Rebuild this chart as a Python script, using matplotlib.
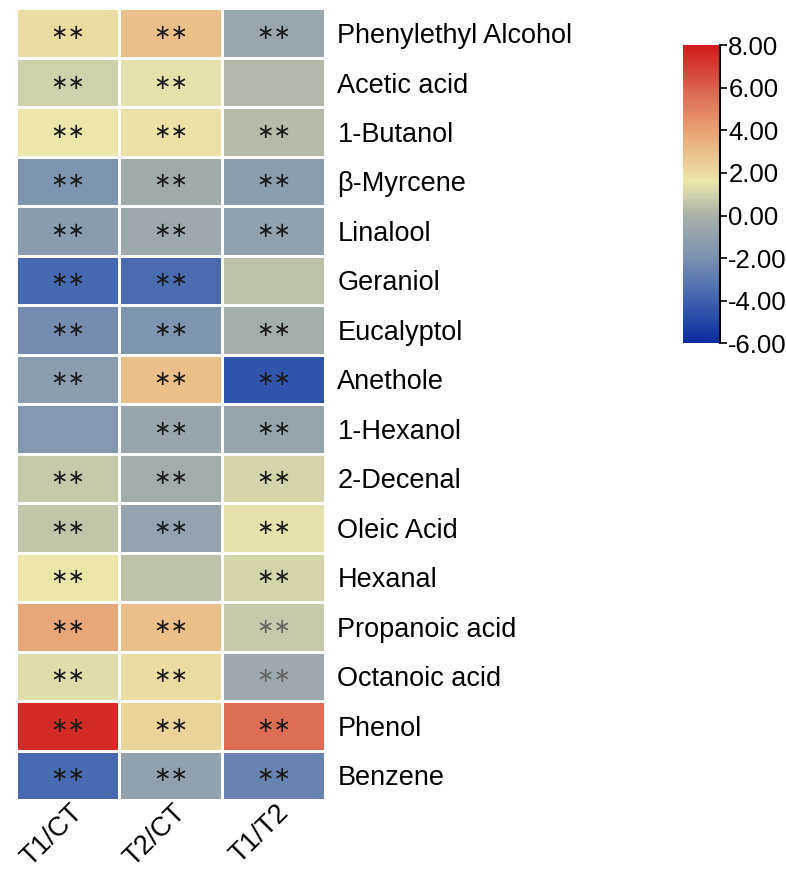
import numpy as np
import matplotlib.pyplot as plt
import matplotlib.transforms as mtransforms
from matplotlib.colors import LinearSegmentedColormap, Normalize

compounds = ['Phenylethyl Alcohol', 'Acetic acid', '1-Butanol', 'β-Myrcene', 'Linalool',
             'Geraniol', 'Eucalyptol', 'Anethole', '1-Hexanol', '2-Decenal', 'Oleic Acid',
             'Hexanal', 'Propanoic acid', 'Octanoic acid', 'Phenol', 'Benzene']
groups = ['T1/CT', 'T2/CT', 'T1/T2']

# log2 fold change per compound (T1/CT, T2/CT, T1/T2)
t1_ct = [2.0, 0.9, 1.6, -1.8, -1.3, -3.8, -2.2, -1.2, -1.6, 0.7, 0.6, 1.6, 3.8, 1.3, 7.5, -3.7]
t2_ct = [3.0, 1.4, 1.8, -0.4, -0.5, -3.6, -1.8, 3.0, -0.7, -0.3, -0.9, 0.5, 3.0, 2.0, 2.3, -1.0]
t1_t2 = [-0.6, 0.2, 0.3, -1.2, -1.0, 0.5, -0.2, -4.5, -0.8, 1.0, 1.4, 1.0, 0.7, -0.5, 5.6, -2.6]

# significance marks
sig_t1_ct = ['**'] * 8 + [''] + ['**'] * 7
sig_t2_ct = ['**'] * 11 + [''] + ['**'] * 4
sig_t1_t2 = ['**', ''] + ['**'] * 3 + [''] + ['**'] * 10
faint_marks = [('Propanoic acid', 'T1/T2'), ('Octanoic acid', 'T1/T2')]

vals = np.array([t1_ct, t2_ct, t1_t2]).T
sig = np.array([sig_t1_ct, sig_t2_ct, sig_t1_t2]).T

cmap = LinearSegmentedColormap.from_list('fc', [
    (0.0, '#0a2a9e'), (2/14, '#3f63b0'), (4/14, '#7b91b0'), (6/14, '#a8b1aa'),
    (7.6/14, '#ece8aa'), (10/14, '#e8a274'), (12/14, '#dc6150'), (1.0, '#d01a1a')])
norm = Normalize(vmin=-6, vmax=8)

plt.rcParams['font.family'] = ['Liberation Sans', 'DejaVu Sans']
plt.rcParams['axes.unicode_minus'] = False
fig = plt.figure(figsize=(7.86, 8.71), dpi=100)
ax = fig.add_axes([0.0204, 0.0815, 0.393, 0.909])

mesh = ax.pcolormesh(vals, cmap=cmap, norm=norm, edgecolors='white', linewidth=2)
ax.set_xlim(0, 3)
ax.set_ylim(len(compounds), 0)

for i, name in enumerate(compounds):
    for j, grp in enumerate(groups):
        if sig[i, j]:
            col = '#666666' if (name, grp) in faint_marks else '#1a1a1a'
            ax.text(j + 0.5, i + 0.5, '\u2217\u2217', ha='center', va='center',
                    fontsize=15, color=col, family='DejaVu Sans')

for s in ax.spines.values():
    s.set_visible(False)
ax.yaxis.tick_right()
ax.set_yticks(np.arange(len(compounds)) + 0.5)
ax.set_yticklabels(compounds, fontsize=19.5)
ax.set_xticks(np.arange(3) + 0.5)
ax.set_xticklabels(groups, fontsize=19.5, rotation=45, ha='right', va='center',
                   rotation_mode='anchor')
ax.tick_params(length=0, pad=9)
ax.tick_params(axis='x', pad=6)
shift = mtransforms.ScaledTranslation(0.11, 0, fig.dpi_scale_trans)
for lab in ax.get_xticklabels():
    lab.set_transform(lab.get_transform() + shift)

cax = fig.add_axes([0.869, 0.606, 0.047, 0.342])
cb = fig.colorbar(mesh, cax=cax, ticks=np.arange(-6, 9, 2))
cb.outline.set_visible(False)
cb.ax.set_yticklabels(['%.2f' % t for t in np.arange(-6, 9, 2)], fontsize=18.5)
cb.ax.tick_params(length=5, width=1.2, pad=1)
cax.plot([1, 1], [0, 1], transform=cax.transAxes, color='black', lw=1.5, clip_on=False)

fig.savefig('out.png', dpi=100)
